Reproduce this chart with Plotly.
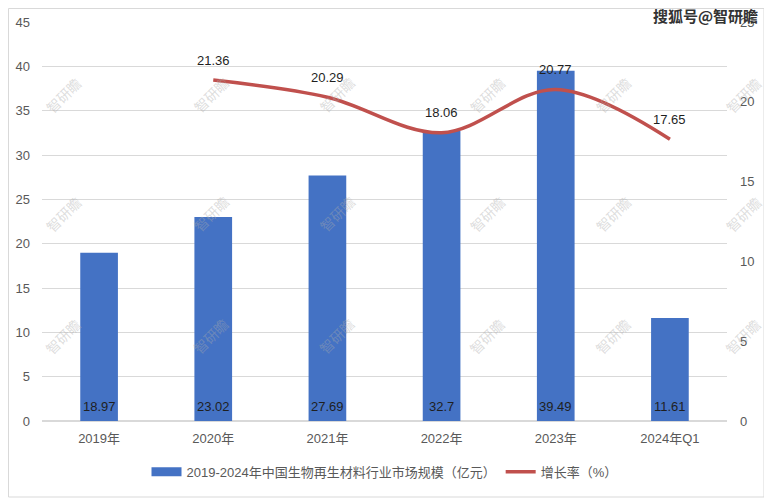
import plotly.graph_objects as go

categories = ["2019年", "2020年", "2021年", "2022年", "2023年", "2024年Q1"]
market_size = [18.97, 23.02, 27.69, 32.7, 39.49, 11.61]
growth_cats = ["2020年", "2021年", "2022年", "2023年", "2024年Q1"]
growth_rate = [21.36, 20.29, 18.06, 20.77, 17.65]
left_ticks = [0, 5, 10, 15, 20, 25, 30, 35, 40, 45]
right_ticks = [0, 5, 10, 15, 20, 25]

bar_name = "2019-2024年中国生物再生材料行业市场规模（亿元）"
line_name = "增长率（%）"

FONT = "Liberation Sans, Noto Sans CJK SC, sans-serif"
BLUE = "#4472C4"
RED = "#C0504D"

# page body has an 8px margin; figure placed accordingly
W, H = 764, 492
ML, MT, MR, MB = 34, 14, 45, 79
PW, PH = W - ML - MR, H - MT - MB

fig = go.Figure()
fig.add_trace(go.Bar(
    x=categories, y=market_size, name=bar_name,
    marker=dict(color=BLUE, line=dict(width=0)),
    width=0.33, showlegend=False,
))
# legend swatch for the bars (wide rectangle like the reference)
fig.add_trace(go.Scatter(
    x=[None], y=[None], name=bar_name, mode="lines",
    line=dict(color=BLUE, width=9),
))
fig.add_trace(go.Scatter(
    x=growth_cats, y=growth_rate, name=line_name, yaxis="y2",
    mode="lines",
    line=dict(color=RED, width=3.5, shape="spline", smoothing=1.0),
    cliponaxis=False,
))

annotations = []
for c, v in zip(categories, market_size):
    annotations.append(dict(
        x=c, y=0, xref="x", yref="y", text=str(v), showarrow=False,
        yanchor="bottom", yshift=5,
        font=dict(color="#1f1f1f", size=13, family=FONT),
    ))
for c, v in zip(growth_cats, growth_rate):
    annotations.append(dict(
        x=c, y=v, xref="x", yref="y2", text=str(v), showarrow=False,
        yshift=20, font=dict(color="#1f1f1f", size=13, family=FONT),
    ))
# watermarks
for yy in [0.88, 0.52, 0.15]:
    for xx in [-0.005, 0.21, 0.43, 0.65, 0.87, 1.06]:
        annotations.append(dict(
            x=xx, y=yy, xref="paper", yref="paper", text="智研瞻",
            showarrow=False, textangle=-45,
            font=dict(size=14, color="rgba(170,170,170,0.4)", family="Noto Sans CJK SC"),
        ))
annotations.append(dict(
    x=(752 - ML) / PW, y=(H - MB - 8) / PH, xref="paper", yref="paper",
    xanchor="right", yanchor="middle",
    text="<b>搜狐号@智研瞻</b>", showarrow=False,
    font=dict(size=15, color="#333333", family="Noto Sans CJK SC"),
))

fig.update_layout(
    width=W, height=H,
    margin=dict(l=ML, r=MR, t=MT, b=MB, autoexpand=False),
    paper_bgcolor="white", plot_bgcolor="white",
    font=dict(family=FONT, size=13, color="#595959"),
    xaxis=dict(
        type="category", categoryorder="array", categoryarray=categories,
        showgrid=False, showline=False, ticks="",
        automargin=False, ticklabelstandoff=8,
        tickfont=dict(size=13, color="#595959", family=FONT),
    ),
    yaxis=dict(
        range=[0, 45], tickvals=left_ticks, showgrid=True, gridcolor="#d9d9d9",
        gridwidth=1, zeroline=True, zerolinecolor="#d9d9d9", showline=False,
        ticks="", automargin=False, ticklabelstandoff=11,
        tickfont=dict(size=13, color="#595959"),
    ),
    yaxis2=dict(
        range=[0, 25], tickvals=right_ticks, overlaying="y", side="right",
        showgrid=False, zeroline=False, showline=False, ticks="",
        automargin=False, ticklabelstandoff=12,
        tickfont=dict(size=13, color="#595959"),
    ),
    legend=dict(
        orientation="h", x=0.5, xanchor="center", y=-0.09, yanchor="top",
        font=dict(size=13, color="#595959", family=FONT),
        itemwidth=30,
    ),
    showlegend=True,
    annotations=annotations,
    shapes=[dict(
        type="rect", xref="paper", yref="paper",
        x0=(0.5 - ML) / PW, x1=(756 - ML) / PW,
        y0=(H - MB - 489) / PH, y1=(H - MB - 0.5) / PH,
        line=dict(color="#d9d9d9", width=1), layer="below",
    )],
)

fig.write_html("out.html")
